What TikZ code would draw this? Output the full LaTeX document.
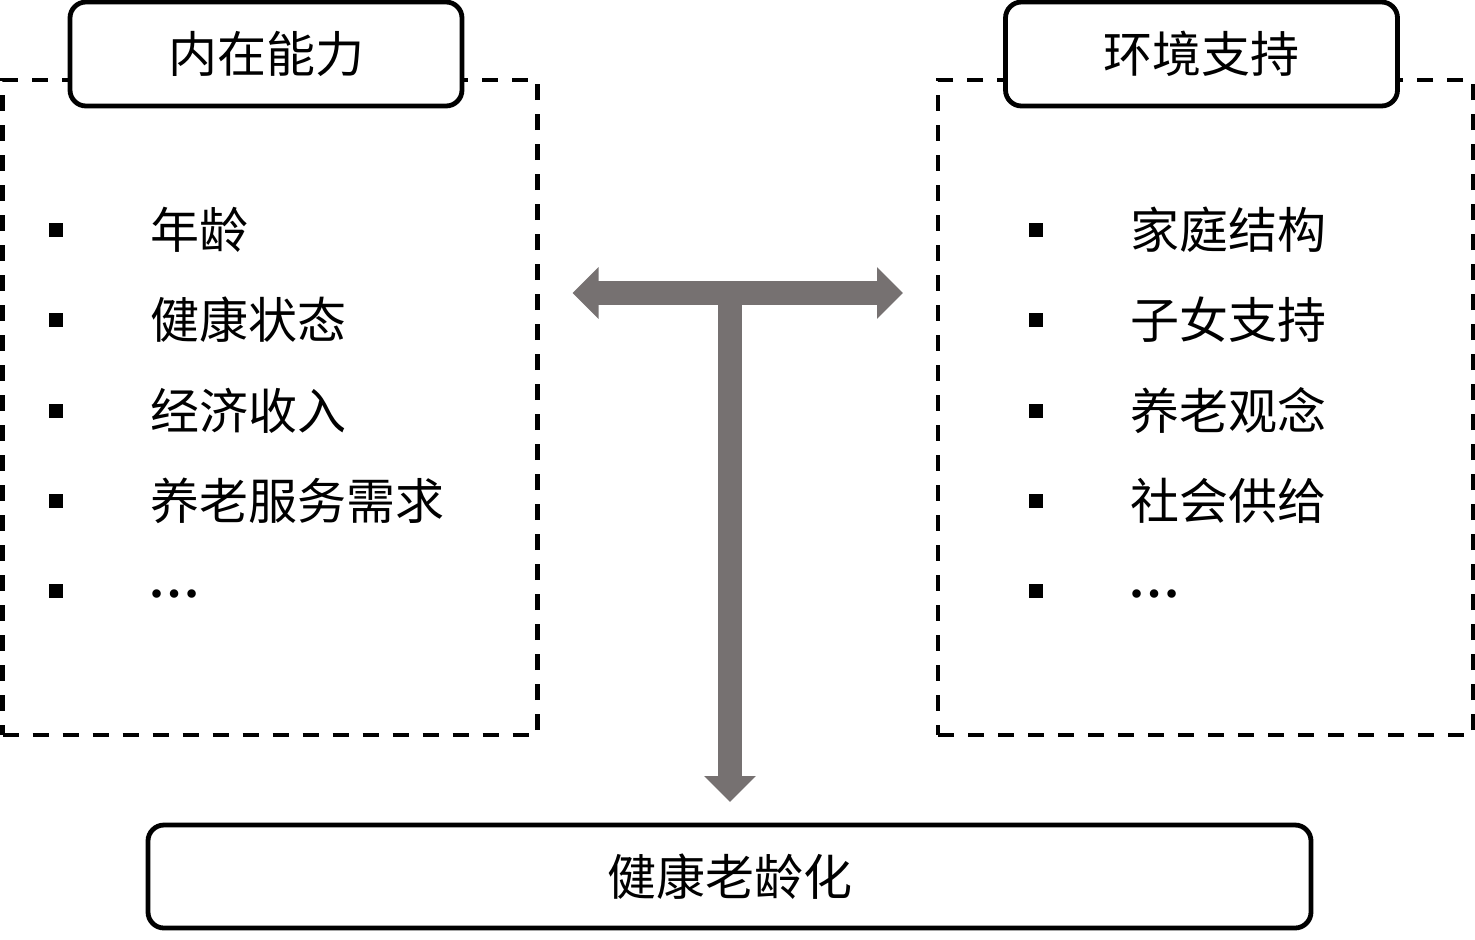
\documentclass[tikz,border=0pt]{standalone}
\usepackage{fontspec}
\newfontfamily\cjk{Noto Sans CJK SC}
\newfontfamily\dotsfont{Liberation Serif}
\usetikzlibrary{arrows.meta}
\definecolor{arrowgray}{RGB}{118,113,113}
\tikzset{
  dashbox/.style={draw, line width=2.4pt, dash pattern=on 8pt off 7pt, rectangle, inner sep=0pt, outer sep=0pt},
  titlebox/.style={draw, line width=2.4pt, rounded corners=8pt, fill=white, minimum width=196pt, minimum height=52pt, inner sep=0pt, outer sep=0pt, font=\cjk\fontsize{24.5pt}{28pt}\selectfont},
  itemtext/.style={anchor=west, inner sep=0pt, font=\cjk\fontsize{24.5pt}{28pt}\selectfont},
  dotstext/.style={anchor=base west, inner sep=0pt, font=\dotsfont\bfseries\fontsize{26pt}{30pt}\selectfont},
  bulletsq/.style={fill=black, rectangle, minimum size=7pt, inner sep=0pt},
  bigarrow/.style={draw=arrowgray, line width=12pt},
}
\begin{document}
\begin{tikzpicture}[x=0.5pt,y=-0.5pt]
\useasboundingbox (0,0) rectangle (1475,939);
% dashed boxes
\node[dashbox, minimum width=267.5pt, minimum height=327.5pt] (lbox) at (270,407.5) {};
\node[dashbox, minimum width=267.5pt, minimum height=327.5pt] (rbox) at (1205.5,407.5) {};
% titles
\node[titlebox] (ltitle) at (266,54) {内在能力};
\node[titlebox] (rtitle) at (1201.5,54) {环境支持};
% left items
\foreach \y/\t [count=\i] in {230/年龄,320/健康状态,411/经济收入,501/养老服务需求}{
  \node[bulletsq] (lb\i) at (56,\y) {};
  \node[itemtext] (lt\i) at (150,\y) {\t};
}
\node[bulletsq] (lb5) at (56,591) {};
\node[dotstext] (lt5) at (148,597) {…};
% right items
\foreach \y/\t [count=\i] in {230/家庭结构,320/子女支持,411/养老观念,501/社会供给}{
  \node[bulletsq] (rb\i) at (1036,\y) {};
  \node[itemtext] (rt\i) at (1130,\y) {\t};
}
\node[bulletsq] (rb5) at (1036,591) {};
\node[dotstext] (rt5) at (1128,597) {…};
% goal
\node[titlebox, minimum width=581.5pt, minimum height=51.5pt] (goal) at (729.5,876.5) {健康老龄化};
% arrows
\coordinate (hl) at ([xshift=17.5pt]lbox.east |- 0,293);
\coordinate (hr) at ([xshift=-17.5pt]rbox.west |- 0,293);
\coordinate (vt) at (730,293);
\coordinate (vb) at ([yshift=11.5pt]goal.north -| vt);
\draw[bigarrow, -{Triangle[width=25pt,length=13pt]}] (vt) -- (vb);
\draw[bigarrow, {Triangle[width=25pt,length=13pt]}-{Triangle[width=25pt,length=13pt]}] (hl) -- (hr);
\end{tikzpicture}
\end{document}
